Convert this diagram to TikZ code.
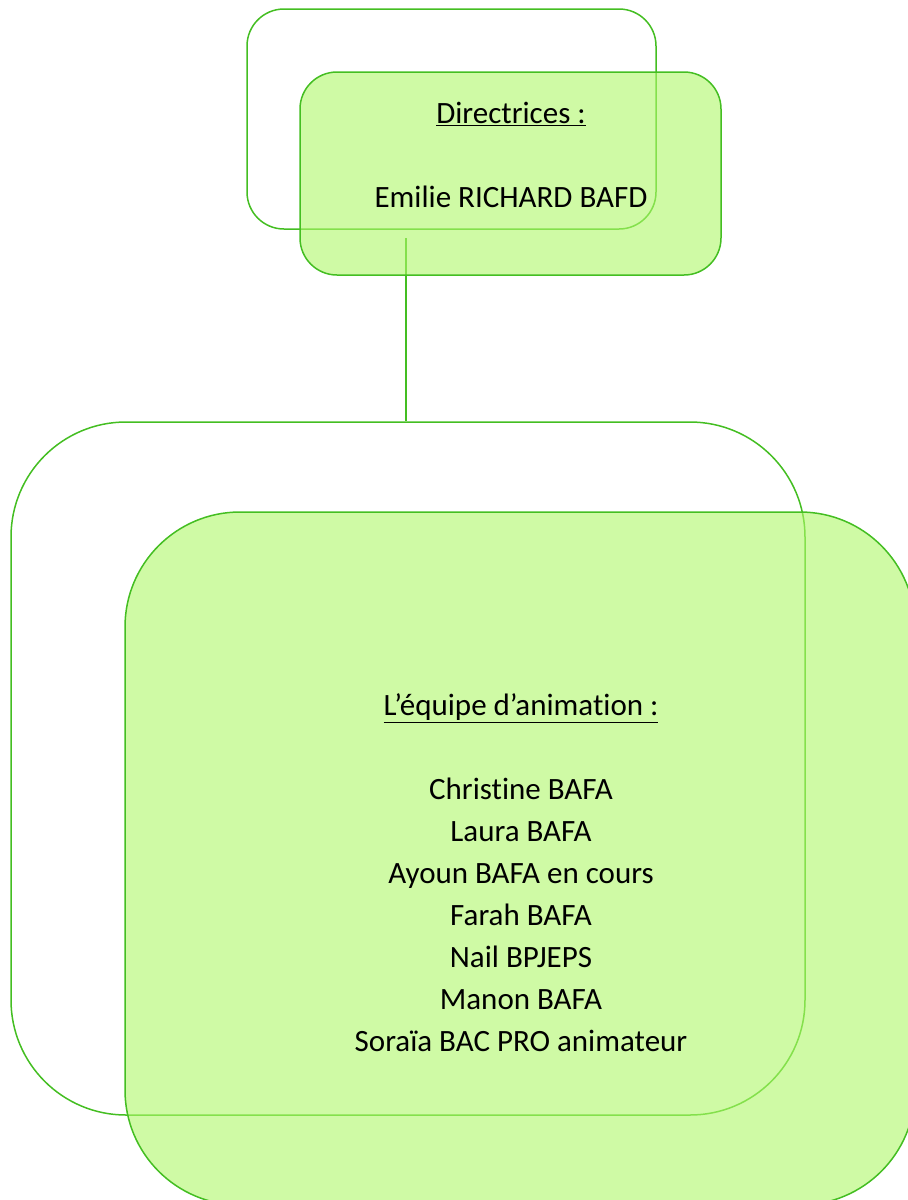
\documentclass[tikz,border=0pt]{standalone}
\usepackage{fontspec}
\setmainfont{Carlito}[Ligatures=NoCommon]
\usepackage{tikz}
\usetikzlibrary{positioning,calc}
\usepackage{xcolor}
\definecolor{orgline}{RGB}{68,190,34}
\definecolor{orgfill}{RGB}{175,247,105}
\tikzstyle{backbox} = [draw=orgline, line width=1.5pt, rectangle, inner sep=0pt]
\tikzstyle{frontbox} = [draw=orgline, line width=1.5pt, fill=orgfill, fill opacity=0.6, rectangle, inner sep=0pt]
\tikzstyle{orgtext} = [align=center, text=black, font=\fontsize{31}{42}\selectfont]

\begin{document}
\begin{tikzpicture}[x=1pt,y=-1pt]
\useasboundingbox (0,0) rectangle (908,1200);
% Direction boxes
\node[backbox, rounded corners=37pt, minimum width=409pt, minimum height=220pt] (dirBack) at (451.5,119) {};
\coordinate (stemTop) at (406,238);
\node[backbox, rounded corners=115pt, minimum width=794pt, minimum height=693pt] (teamBack) at (408,768.5) {};
% Link between the two levels
\draw[orgline, line width=1.5pt] (stemTop) -- (stemTop |- teamBack.north);
\node[frontbox, rounded corners=37pt, minimum width=421pt, minimum height=203pt] (dirFront) at (510.5,173.5) {};
\node[frontbox, rounded corners=115pt, minimum width=790pt, minimum height=693pt] (teamFront) at (520,858.5) {};

% Texts
\node[orgtext] (dirText) at (511,155) {\underline{Directrices :}\\[42pt] Emilie RICHARD BAFD};
\node[orgtext] (teamText) at (521,872.5) {\underline{L’équipe d’animation :}\\[42pt]
  Christine BAFA\\ Laura BAFA\\ Ayoun BAFA en cours\\ Farah BAFA\\ Nail BPJEPS\\
  Manon BAFA\\ Soraïa BAC PRO animateur};
\end{tikzpicture}
\end{document}
